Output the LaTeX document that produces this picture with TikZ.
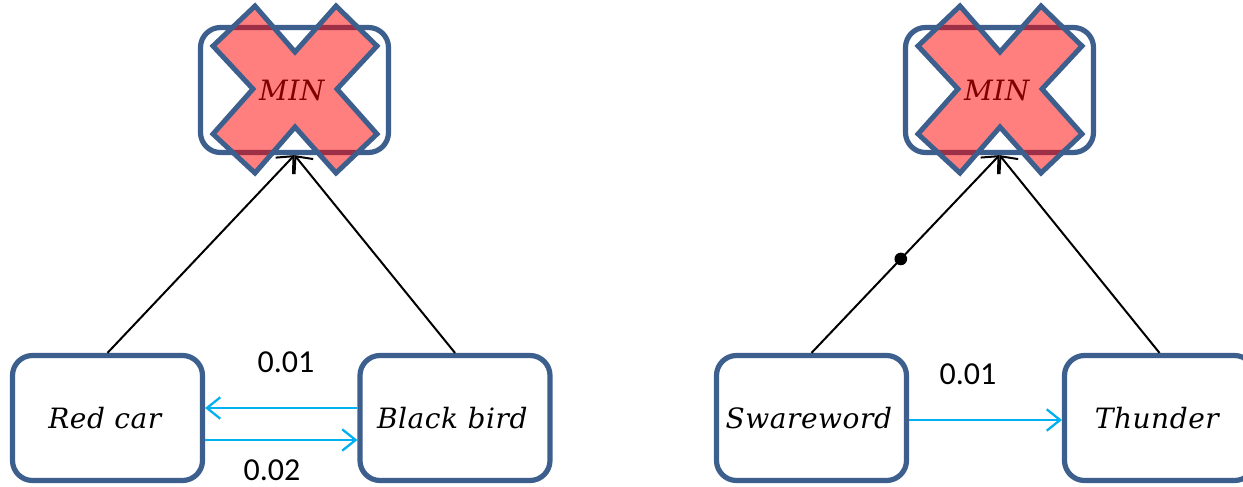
\documentclass[tikz,border=0pt]{standalone}
\usepackage{fontspec}
\newfontfamily\numfont{Carlito}
\newfontfamily\termfont[LetterSpace=2]{DejaVu Serif}
\usetikzlibrary{arrows.meta}

\definecolor{boxblue}{RGB}{60,95,141}
\definecolor{linkcyan}{RGB}{0,176,240}
\definecolor{crossred}{RGB}{255,0,0}

\tikzset{
  termbox/.style={draw=boxblue, line width=3.9pt, rounded corners=15pt, fill=white,
    minimum width=142.5pt, minimum height=93.75pt, inner sep=0pt,
    font=\termfont\itshape\fontsize{21}{25}\selectfont},
  minbox/.style={termbox, minimum width=141pt},
  uplink/.style={draw=black, line width=1.5pt,
    -{Straight Barb[length=10pt,width=18pt,line width=1.5pt]}},
  simlink/.style={draw=linkcyan, line width=1.7pt,
    -{Straight Barb[length=10pt,width=16pt,line width=1.7pt]}},
  weight/.style={font=\numfont\fontsize{24}{28}\selectfont, inner sep=0pt},
  blob/.style={circle, fill=black, inner sep=0pt, minimum size=9.5pt},
}

\begin{document}
\begin{tikzpicture}[x=0.75pt, y=-0.75pt]
\useasboundingbox (0,0) rectangle (1243,486);

% aggregation boxes at the top
\node[minbox] (min1) at (294.5,90) {\hspace*{-4pt}MIN};
\node[minbox] (min2) at (999.5,90) {\hspace*{-4pt}MIN};

% crossed-out marks over both MIN boxes
\foreach \dx in {0,705} {
  \begin{scope}[shift={(\dx,0)}]
    \path[fill=crossred, fill opacity=0.5]
      (295,52) -- (336,6) -- (377,46) -- (337,89) -- (377,134) -- (336,173)
      -- (295,127) -- (255,173) -- (213,134) -- (253,89) -- (213,46) -- (255,6) -- cycle;
    \draw[boxblue, line width=3.75pt, line join=miter]
      (295,52) -- (336,6) -- (377,46) -- (337,89) -- (377,134) -- (336,173)
      -- (295,127) -- (255,173) -- (213,134) -- (253,89) -- (213,46) -- (255,6) -- cycle;
  \end{scope}
}

% term boxes at the bottom
\node[termbox] (red)   at (107.5,418)  {\hspace*{-4pt}Red car};
\node[termbox] (black) at (455,418)    {\hspace*{-4pt}Black bird};
\node[termbox] (swear) at (811.5,418)  {\hspace*{-4pt}Swareword};
\node[termbox] (thun)  at (1159.5,418) {\hspace*{-4pt}Thunder};

% links to the aggregation boxes
\draw[uplink] (red.north) -- (min1.south);
\draw[uplink] (black.north) -- (min1.south);
\draw[uplink] (swear.north) -- node[blob, pos=0.475] (knot) {} (min2.south);
\draw[uplink] (thun.north) -- (min2.south);

% similarity links between terms
\draw[simlink] ([yshift=7.5pt]black.west) -- ([yshift=7.5pt]red.east);
\draw[simlink] ([yshift=-16.5pt]red.east) -- ([yshift=-16.5pt]black.west);
\draw[simlink] ([yshift=-1.5pt]swear.east) -- ([yshift=-1.5pt]thun.west);

% weights
\node[weight] (w1) at (286,362) {0.01};
\node[weight] (w2) at (272,470) {0.02};
\node[weight] (w3) at (968,374) {0.01};
\end{tikzpicture}
\end{document}
